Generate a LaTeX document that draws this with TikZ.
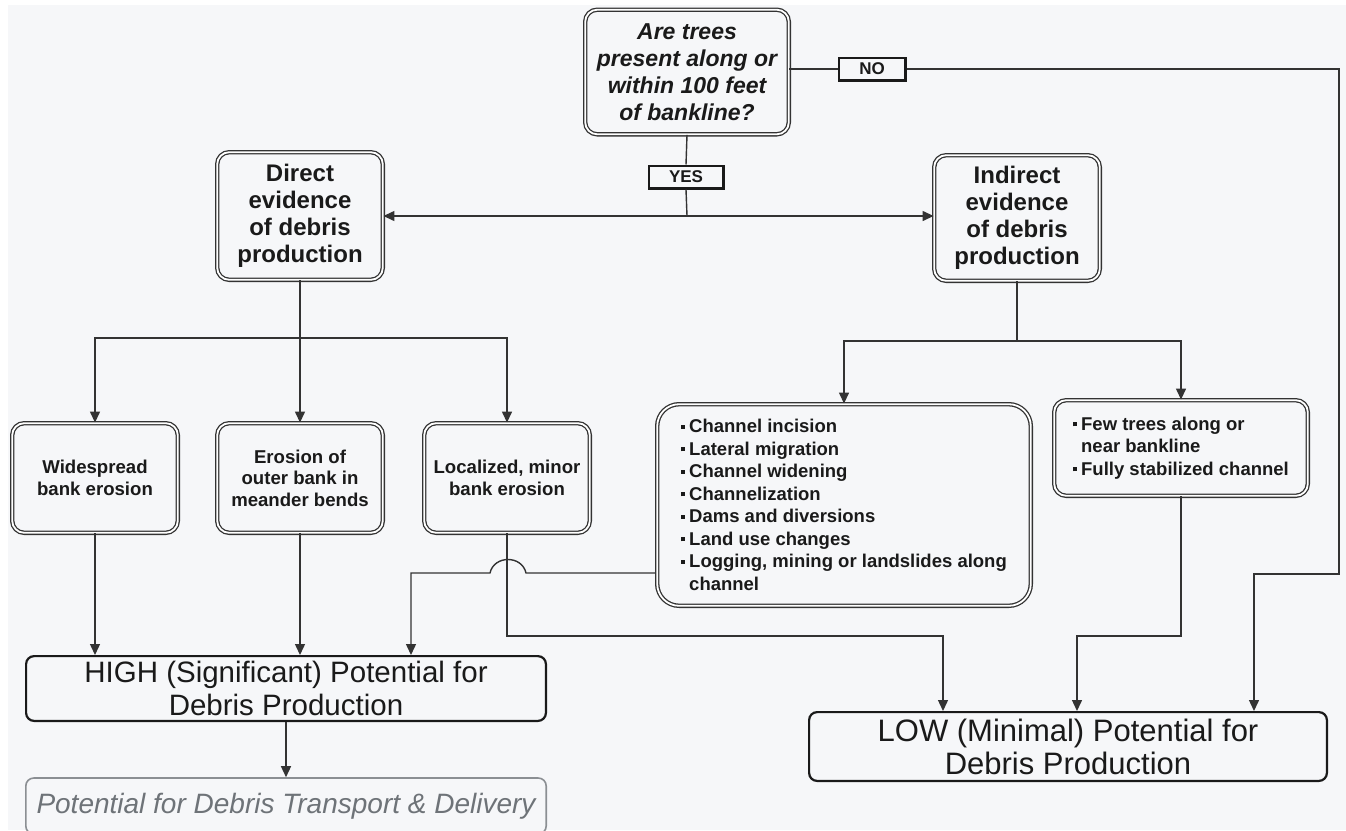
\documentclass[tikz,border=0pt]{standalone}
\usepackage{fontspec}
\setmainfont{Liberation Sans}
\usetikzlibrary{arrows.meta}
\definecolor{bgcol}{HTML}{F6F7F9}
\definecolor{lncol}{HTML}{333333}
\definecolor{txcol}{HTML}{1A1A1A}
\definecolor{grcol}{HTML}{6E7378}
\newcommand{\bul}{\rule[4pt]{4pt}{4pt}\hspace{4pt}}
\begin{document}
\begin{tikzpicture}[x=1pt,y=-1pt,
  dbox/.style={draw=lncol, double=white, double distance=1.8pt, line width=1.3pt,
    rounded corners=12pt, fill=bgcol, inner sep=0pt, align=center, text=txcol},
  sbox/.style={draw=txcol, line width=2.2pt, rounded corners=8pt, fill=bgcol,
    inner sep=0pt, align=center, text=txcol, font=\fontsize{29.5}{33}\selectfont},
  lab/.style={draw=txcol, line width=2.4pt, fill=bgcol, minimum height=22.6pt,
    inner sep=0pt, text=txcol, font=\bfseries\fontsize{17}{17}\selectfont},
  bigtxt/.style={font=\bfseries\fontsize{24}{27}\selectfont},
  smalltxt/.style={font=\bfseries\fontsize{18.6}{21.5}\selectfont},
  listtxt/.style={font=\bfseries\fontsize{18.5}{22.5}\selectfont, align=left},
  conn/.style={draw=lncol, line width=1.4pt},
  arr/.style={conn, -{Triangle[length=11pt,width=10pt]}}
]
\fill[white] (0,0) rectangle (1346,830);
\fill[bgcol] (8,5) rectangle (1346,830);
\useasboundingbox (0,0) rectangle (1346,830);

% nodes
\node[dbox, minimum width=203.6pt, minimum height=124.6pt,
  font=\bfseries\itshape\fontsize{23}{27}\selectfont] (Q) at (687,72)
  {Are trees\\present along or\\within 100 feet\\of bankline?};
\node[lab, minimum width=66.6pt] (NO) at (872,69) {NO};
\node[lab, minimum width=74.6pt] (YES) at (686,177) {YES};

\node[dbox, bigtxt, minimum width=165.6pt, minimum height=127.6pt] (Dir) at (300,216)
  {Direct\\evidence\\of debris\\production};
\node[dbox, bigtxt, minimum width=165.6pt, minimum height=125.6pt] (Ind) at (1017,218)
  {Indirect\\evidence\\of debris\\production};

\node[dbox, smalltxt, minimum width=165.6pt, minimum height=109.6pt] (W) at (95,478)
  {Widespread\\bank erosion};
\node[dbox, smalltxt, minimum width=165.6pt, minimum height=109.6pt] (E) at (300,478)
  {Erosion of\\outer bank in\\meander bends};
\node[dbox, smalltxt, minimum width=165.6pt, minimum height=109.6pt] (L) at (507,478)
  {Localized, minor\\bank erosion};

\node[dbox, listtxt, rounded corners=22pt, minimum width=373.6pt, minimum height=201.6pt] (Ch) at (844,505)
  {\bul Channel incision\\\bul Lateral migration\\\bul Channel widening\\\bul Channelization\\
   \bul Dams and diversions\\\bul Land use changes\\\bul Logging, mining or landslides along\\
   \hspace*{8pt}channel};
\node[dbox, listtxt, minimum width=253.6pt, minimum height=95.6pt] (Few) at (1181,448)
  {\bul Few trees along or\\\hspace*{8pt}near bankline\\\bul Fully stabilized channel};

\node[sbox, minimum width=519.8pt, minimum height=64.8pt] (HIGH) at (286,688.5)
  {HIGH (Significant) Potential for\\Debris Production};
\node[sbox, font=\fontsize{31}{33}\selectfont, minimum width=517.8pt, minimum height=68.8pt] (LOW) at (1068,746.5)
  {LOW (Minimal) Potential for\\Debris Production};
\node[sbox, draw=grcol!80, line width=1.6pt, text=grcol,
  font=\itshape\fontsize{28}{31}\selectfont,
  minimum width=520.4pt, minimum height=56pt] (TR) at (286,806)
  {Potential for Debris Transport \& Delivery};

% coordinates
\coordinate (yj) at (687,216);
\coordinate (dj) at (300,338);
\coordinate (ij) at (1017,341);
\coordinate (cw) at (655,573);
\coordinate (j1) at (526,573);
\coordinate (j2) at (490,573);
\coordinate (h3) at (411,573);
\coordinate (lj) at (507,636);
\coordinate (lk) at (943,636);
\coordinate (fj) at (1181,636);
\coordinate (fk) at (1077,636);
\coordinate (r1) at (1339,574);
\coordinate (r2) at (1254,574);

% connectors
\draw[conn] (Q.south) -- (YES.north);
\draw[conn] (YES.south) -- (yj);
\draw[arr] (yj) -- (yj -| Dir.east);
\draw[arr] (yj) -- (yj -| Ind.west);
\draw[conn] (Q.east |- NO.west) -- (NO.west);
\draw[arr] (NO.east) -| (r1) -- (r2) -- (r2 |- LOW.north);

\draw[conn] (Dir.south) -- (dj);
\draw[arr] (dj) -| (W.north);
\draw[arr] (dj) -- (E.north);
\draw[arr] (dj) -| (L.north);

\draw[conn] (Ind.south) -- (ij);
\draw[arr] (ij) -| (Ch.north);
\draw[arr] (ij) -| (Few.north);

\draw[arr] (W.south) -- (W.south |- HIGH.north);
\draw[arr] (E.south) -- (E.south |- HIGH.north);
\draw[arr] (cw) -- (j1) .. controls (522,555) and (494,555) .. (j2) -- (h3) -- (h3 |- HIGH.north);
\draw[arr] (L.south) -- (lj) -- (lk) -- (lk |- LOW.north);
\draw[arr] (Few.south) -- (fj) -- (fk) -- (fk |- LOW.north);
\draw[arr] (HIGH.south) -- (TR.north);
\end{tikzpicture}
\end{document}
